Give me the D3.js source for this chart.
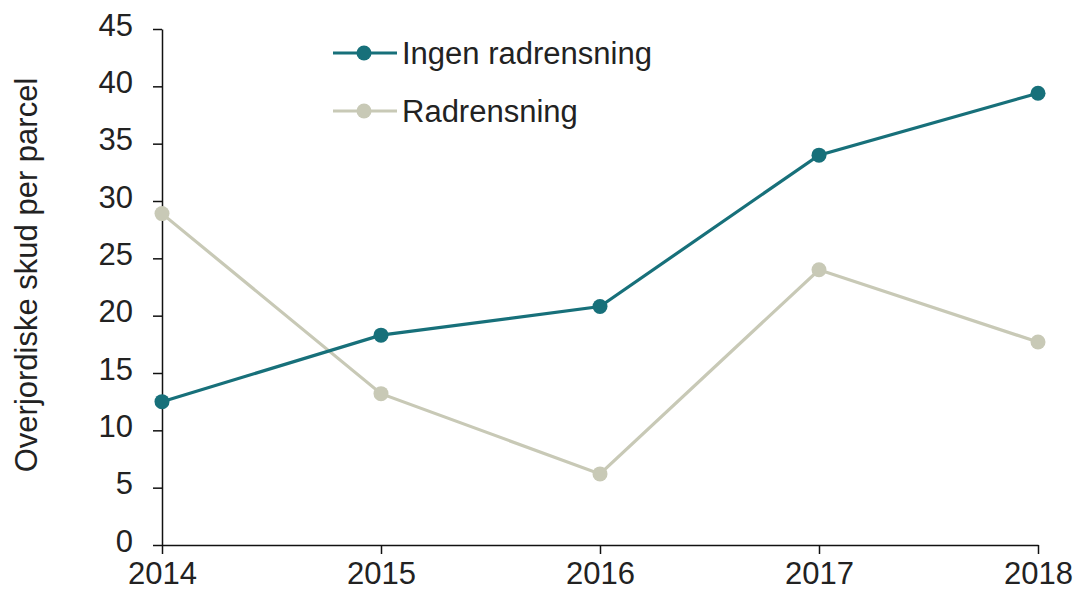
<!DOCTYPE html>
<html><head><meta charset="utf-8">
<script src="https://cdn.jsdelivr.net/npm/d3@7"></script>
<style>body{margin:0;background:#fff}text{font-family:"Liberation Sans",Arial,sans-serif;fill:#222}</style>
</head><body><svg id="c" width="1076" height="592"></svg>
<script>
const years = [2014, 2015, 2016, 2017, 2018];
const ingenRadrensning = [12.5, 18.3, 20.8, 34.0, 39.4];
const radrensning = [28.9, 13.2, 6.2, 24.0, 17.7];
const yTicks = [0, 5, 10, 15, 20, 25, 30, 35, 40, 45];
const seriesNames = ["Ingen radrensning", "Radrensning"];
const colors = ["#17707a", "#c8c9b6"];
const FS = 31;

const svg = d3.select("#c");
const x = d3.scalePoint().domain(years).range([162, 1038]);
const y = d3.scaleLinear().domain([0, 45]).range([545, 29]);

const yAxis = svg.append("g").attr("transform", "translate(162,0)")
  .call(d3.axisLeft(y).tickValues(yTicks).tickSize(9).tickSizeOuter(0).tickPadding(20));
const xAxis = svg.append("g").attr("transform", "translate(0,545)")
  .call(d3.axisBottom(x).tickSize(9).tickSizeOuter(0).tickPadding(8));
[yAxis, xAxis].forEach(g => {
  g.selectAll("path,line").attr("stroke", "#111").attr("stroke-width", 1.5);
  g.selectAll("text").attr("font-size", FS).attr("font-family", "Liberation Sans, Arial, sans-serif").attr("fill", "#222");
});
yAxis.selectAll("text").attr("dy", "0.2em");

svg.append("text").attr("transform", "translate(37,275) rotate(-90)")
  .attr("text-anchor", "middle").attr("font-size", FS).text("Overjordiske skud per parcel");

const data = [ingenRadrensning, radrensning];
const line = d3.line().x((d, i) => x(years[i])).y(d => y(d));
[1, 0].forEach(k => {
  svg.append("path").datum(data[k]).attr("d", line).attr("fill", "none")
    .attr("stroke", colors[k]).attr("stroke-width", 3.2);
  svg.selectAll(null).data(data[k]).enter().append("circle")
    .attr("cx", (d, i) => x(years[i])).attr("cy", d => y(d)).attr("r", 7.5).attr("fill", colors[k]);
});

const leg = svg.append("g");
seriesNames.forEach((n, k) => {
  const ly = 53 + k * 58;
  leg.append("line").attr("x1", 333).attr("x2", 397).attr("y1", ly).attr("y2", ly)
    .attr("stroke", colors[k]).attr("stroke-width", 3.2);
  leg.append("circle").attr("cx", 364).attr("cy", ly).attr("r", 7.5).attr("fill", colors[k]);
  leg.append("text").attr("x", 402).attr("y", ly).attr("dy", "0.36em").attr("font-size", FS).text(n);
});
</script></body></html>
